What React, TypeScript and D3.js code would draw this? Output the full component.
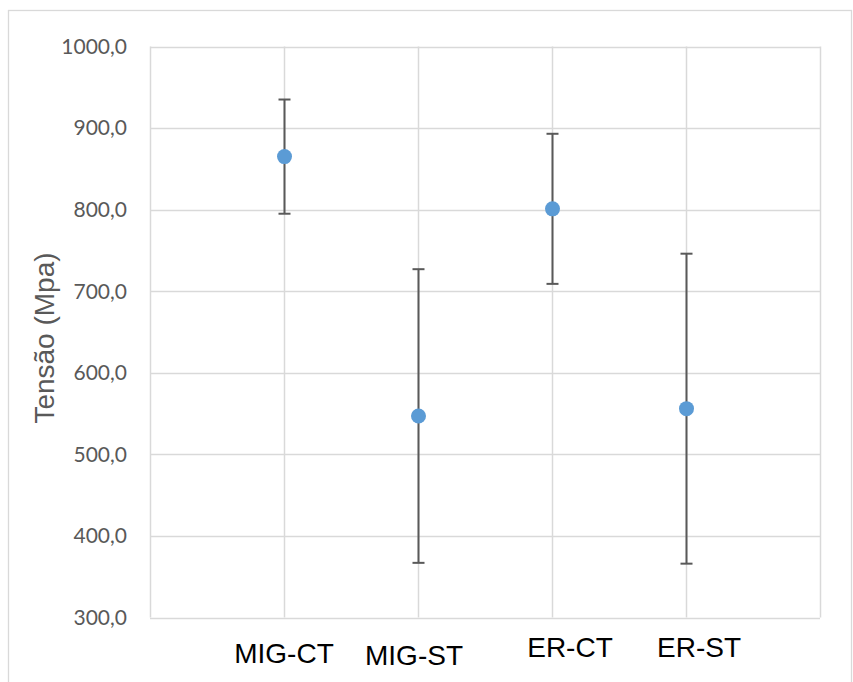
import React from 'react';
import * as d3 from 'd3';

// values (Tensão in MPa)
const categories = ['MIG-CT', 'MIG-ST', 'ER-CT', 'ER-ST'];
const means = [865, 547, 801, 556];
const errors = [70, 180, 92, 190];
const yTicks = [300, 400, 500, 600, 700, 800, 900, 1000];
// the category labels are text boxes, not quite centred on the columns
const labelShift = [0, -4, 18, 13];
const labelBaseline = [663, 665, 657, 657];

const W = 853;
const H = 682;
const margin = { top: 46.5, right: 33, bottom: 64.5, left: 150 };

const App = () => {
    const x = d3.scaleLinear()
        .domain([0, categories.length + 1])
        .range([margin.left, W - margin.right]);

    const y = d3.scaleLinear()
        .domain([300, 1000])
        .range([H - margin.bottom, margin.top]);

    const fmt = (d: number) => d3.format('.1f')(d).replace('.', ',');
    const grid = '#d9d9d9';
    const xLines = d3.range(0, categories.length + 2);

    return (
        <svg width={W} height={H} style={{ position: 'absolute', left: 0, top: 0, background: '#fff' }}>
            <rect x={8.5} y={10.5} width={843} height={700} fill="none" stroke={grid} strokeWidth={1.3} />

            {yTicks.map(t => (
                <line key={'h' + t} x1={x(0)} x2={x(categories.length + 1)}
                    y1={Math.round(y(t)) + 0.5} y2={Math.round(y(t)) + 0.5}
                    stroke={grid} strokeWidth={1.5} />
            ))}
            {xLines.map(i => (
                <line key={'v' + i} x1={Math.round(x(i)) + 0.5} x2={Math.round(x(i)) + 0.5}
                    y1={y(1000)} y2={y(300)} stroke={grid} strokeWidth={1.5} />
            ))}

            {yTicks.map(t => (
                <text key={'t' + t} x={127} y={y(t)} dy="0.35em" textAnchor="end"
                    fontFamily="Lato, 'Open Sans', sans-serif" fontSize={21} fill="#595959">
                    {fmt(t)}
                </text>
            ))}

            <text transform={`translate(54, ${338}) rotate(-90)`} textAnchor="middle"
                fontFamily="'Liberation Sans', Arial, sans-serif" fontSize={28} fill="#595959">
                Tensão (Mpa)
            </text>

            {categories.map((c, i) => {
                const cx = Math.round(x(i + 1)) + 0.5;
                const top = y(means[i] + errors[i]);
                const bottom = y(means[i] - errors[i]);
                return (
                    <g key={c}>
                        <line x1={cx} x2={cx} y1={top} y2={bottom} stroke="#595959" strokeWidth={2} />
                        <line x1={cx - 6} x2={cx + 6} y1={top} y2={top} stroke="#595959" strokeWidth={2} />
                        <line x1={cx - 6} x2={cx + 6} y1={bottom} y2={bottom} stroke="#595959" strokeWidth={2} />
                        <circle cx={cx} cy={y(means[i])} r={7.5} fill="#5b9bd5" />
                    </g>
                );
            })}

            {categories.map((c, i) => (
                <text key={'l' + c} x={x(i + 1) + labelShift[i]} y={labelBaseline[i]} textAnchor="middle"
                    fontFamily="'Liberation Sans', Arial, sans-serif" fontSize={28} fill="#000">
                    {c}
                </text>
            ))}
        </svg>
    );
};

export default App;
